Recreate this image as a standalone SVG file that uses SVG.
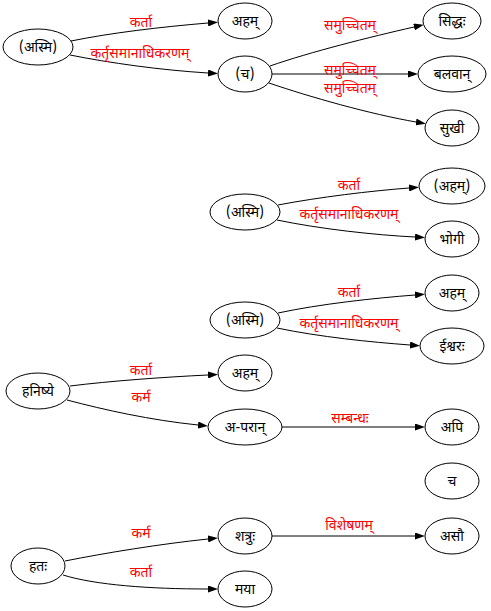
<svg xmlns="http://www.w3.org/2000/svg" width="491" height="611" viewBox="0 0 491 611">
  <style>
    .node ellipse { fill: none; stroke: #000; stroke-width: 1; }
    .node text { font-family: "Noto Sans Devanagari", "Noto Sans", "DejaVu Sans", sans-serif; font-size: 14px; fill: #000; text-anchor: middle; }
    .edges path { fill: none; stroke: #000; stroke-width: 1; marker-end: url(#arrow); }
    .edges text { font-family: "Noto Sans Devanagari", "Noto Sans", "DejaVu Sans", sans-serif; font-size: 14px; fill: #ff0000; text-anchor: middle; }
  </style>
  <defs>
    <marker id="arrow" markerUnits="userSpaceOnUse" markerWidth="10" markerHeight="7" refX="0" refY="3.5" orient="auto">
      <path d="M0,0 L10,3.5 L0,7 z" fill="#000"/>
    </marker>
  </defs>
  <rect width="491" height="611" fill="#fff"/>

  <!-- connectors and their labels -->
  <g id="edges" class="edges">
    <path d="M71,41 C110,33 160,27 208,23"/>
    <text x="141" y="27">कर्ता</text>
    <path d="M70,55 C110,63 160,70 208,73"/>
    <text x="140" y="58">कर्तृसमानाधिकरणम्</text>

    <path d="M270,66 C310,52 370,37 414,27"/>
    <text x="350" y="30">समुच्चितम्</text>
    <path d="M272,74 L408,74"/>
    <text x="350" y="75">समुच्चितम्</text>
    <path d="M269,83 C310,97 370,114 416,122"/>
    <text x="350" y="93">समुच्चितम्</text>

    <path d="M278,205 C320,197 370,191 409,188"/>
    <text x="349" y="190">कर्ता</text>
    <path d="M277,220 C320,229 375,235 415,237"/>
    <text x="349" y="219">कर्तृसमानाधिकरणम्</text>

    <path d="M278,313 C320,304 375,298 415,295"/>
    <text x="349" y="297">कर्ता</text>
    <path d="M277,328 C320,337 370,342 410,345"/>
    <text x="349" y="328">कर्तृसमानाधिकरणम्</text>

    <path d="M70,386 C110,381 165,377 208,375"/>
    <text x="141" y="375">कर्ता</text>
    <path d="M67,400 C105,410 150,420 198,425"/>
    <text x="141" y="402">कर्म</text>
    <path d="M282,427 L415,427"/>
    <text x="350" y="423">सम्बन्धः</text>

    <path d="M65,561 C105,553 160,544 208,539"/>
    <text x="141" y="538">कर्म</text>
    <path d="M63,575 C95,585 150,589 208,589"/>
    <text x="141" y="577">कर्ता</text>
    <path d="M272,536 L415,536"/>
    <text x="349" y="530">विशेषणम्</text>
  </g>

  <!-- component 1 -->
  <g id="n_asmi1" class="node"><ellipse cx="38" cy="47" rx="35" ry="18"/><text x="38" y="52">(अस्मि)</text></g>
  <g id="n_aham1" class="node"><ellipse cx="245" cy="21" rx="27" ry="18"/><text x="245" y="26">अहम्</text></g>
  <g id="n_ca1" class="node"><ellipse cx="245" cy="74" rx="27" ry="18"/><text x="245" y="79">(च)</text></g>
  <g id="n_siddha" class="node"><ellipse cx="452" cy="21" rx="29" ry="18"/><text x="452" y="26">सिद्धः</text></g>
  <g id="n_balavan" class="node"><ellipse cx="452" cy="74" rx="34" ry="18"/><text x="452" y="79">बलवान्</text></g>
  <g id="n_sukhi" class="node"><ellipse cx="452" cy="128" rx="27" ry="18"/><text x="452" y="133">सुखी</text></g>

  <!-- component 2 -->
  <g id="n_asmi2" class="node"><ellipse cx="245" cy="212" rx="35" ry="18"/><text x="245" y="217">(अस्मि)</text></g>
  <g id="n_aham2" class="node"><ellipse cx="452" cy="186" rx="33" ry="18"/><text x="452" y="191">(अहम्)</text></g>
  <g id="n_bhogi" class="node"><ellipse cx="452" cy="239" rx="27" ry="18"/><text x="452" y="244">भोगी</text></g>

  <!-- component 3 -->
  <g id="n_asmi3" class="node"><ellipse cx="245" cy="320" rx="35" ry="18"/><text x="245" y="325">(अस्मि)</text></g>
  <g id="n_aham3" class="node"><ellipse cx="452" cy="293" rx="27" ry="18"/><text x="452" y="298">अहम्</text></g>
  <g id="n_ishvara" class="node"><ellipse cx="452" cy="346" rx="32" ry="18"/><text x="452" y="351">ईश्वरः</text></g>

  <!-- component 4 -->
  <g id="n_hanishye" class="node"><ellipse cx="38" cy="391" rx="32" ry="18"/><text x="38" y="396">हनिष्ये</text></g>
  <g id="n_aham4" class="node"><ellipse cx="245" cy="373" rx="27" ry="18"/><text x="245" y="378">अहम्</text></g>
  <g id="n_aparan" class="node"><ellipse cx="245" cy="427" rx="37" ry="18"/><text x="245" y="432">अ-परान्</text></g>
  <g id="n_api" class="node"><ellipse cx="452" cy="427" rx="27" ry="18"/><text x="452" y="432">अपि</text></g>

  <!-- standalone -->
  <g id="n_ca2" class="node"><ellipse cx="452" cy="481" rx="27" ry="18"/><text x="452" y="486">च</text></g>

  <!-- component 5 -->
  <g id="n_hata" class="node"><ellipse cx="38" cy="566" rx="27" ry="18"/><text x="38" y="571">हतः</text></g>
  <g id="n_shatru" class="node"><ellipse cx="245" cy="536" rx="27" ry="18"/><text x="245" y="541">शत्रुः</text></g>
  <g id="n_maya" class="node"><ellipse cx="245" cy="589" rx="27" ry="18"/><text x="245" y="594">मया</text></g>
  <g id="n_asau" class="node"><ellipse cx="452" cy="536" rx="27" ry="18"/><text x="452" y="541">असौ</text></g>
</svg>
